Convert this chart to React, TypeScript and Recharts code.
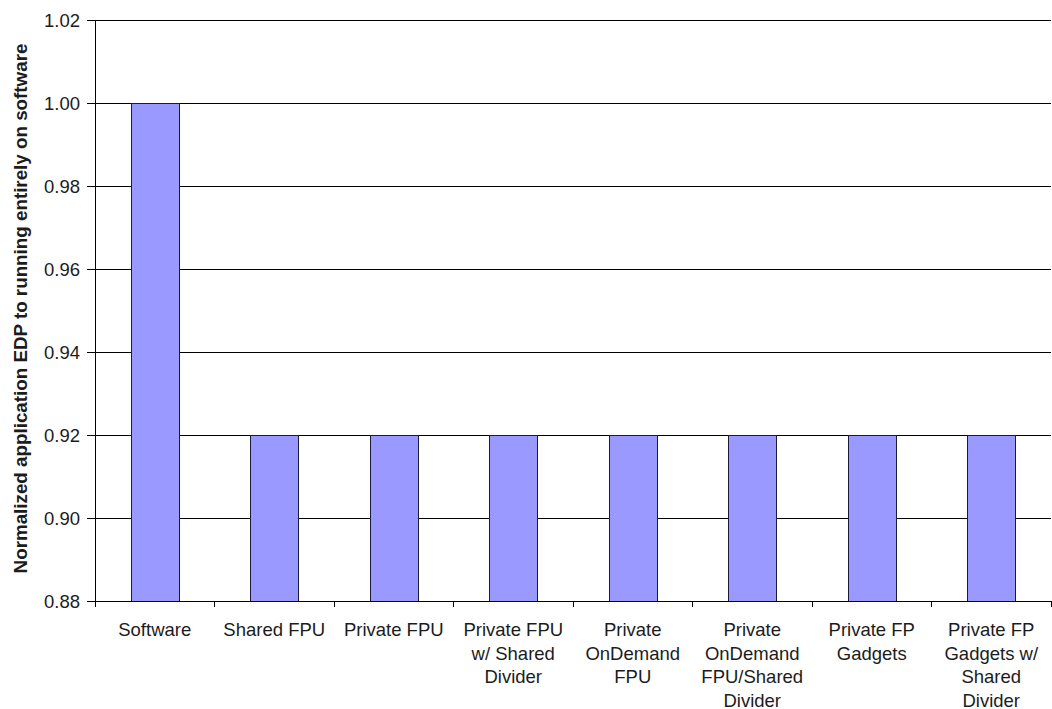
import React from "react";
import { BarChart, Bar, XAxis, YAxis, CartesianGrid, Label } from "recharts";

// Configurations compared, in axis order
const categories = [
  "Software",
  "Shared FPU",
  "Private FPU",
  "Private FPU w/ Shared Divider",
  "Private OnDemand FPU",
  "Private OnDemand FPU/Shared Divider",
  "Private FP Gadgets",
  "Private FP Gadgets w/ Shared Divider",
];

// How each category name wraps under the axis
const categoryLines = [
  ["Software"],
  ["Shared FPU"],
  ["Private FPU"],
  ["Private FPU", "w/ Shared", "Divider"],
  ["Private", "OnDemand", "FPU"],
  ["Private", "OnDemand", "FPU/Shared", "Divider"],
  ["Private FP", "Gadgets"],
  ["Private FP", "Gadgets w/", "Shared", "Divider"],
];

// Normalized application EDP relative to pure software
const edpValues = [1.0, 0.92, 0.92, 0.92, 0.92, 0.92, 0.92, 0.92];

const yTicks = [0.88, 0.9, 0.92, 0.94, 0.96, 0.98, 1.0, 1.02];

const data = categories.map((name, i) => ({ name, edp: edpValues[i] }));

const CHART_W = 1052;
const CHART_H = 709;
const Y_AXIS_W = 95;
const MARGIN = { top: 20, right: 1, bottom: 0, left: 0 };
const X_AXIS_H = 108;
const PLOT_W = CHART_W - Y_AXIS_W - MARGIN.left - MARGIN.right;
const BAND = PLOT_W / categories.length;

const FONT = "'Liberation Sans', Arial, sans-serif";
const TEXT_COLOR = "#1c1c1c";
const LINE_COLOR = "#000";

const CategoryTick = (props: any) => {
  const { x, y, payload, index } = props;
  const idx = categories.indexOf(payload.value);
  const lines = categoryLines[idx] ?? [payload.value];
  const left = x - BAND / 2;
  const right = x + BAND / 2;
  return (
    <g>
      <line x1={left} y1={y} x2={left} y2={y + 6} stroke={LINE_COLOR} strokeWidth={1} shapeRendering="crispEdges" />
      {index === categories.length - 1 && (
        <line x1={right} y1={y} x2={right} y2={y + 6} stroke={LINE_COLOR} strokeWidth={1} shapeRendering="crispEdges" />
      )}
      <text
        x={x}
        y={y + 35}
        textAnchor="middle"
        fontFamily={FONT}
        fontSize={18.5}
        fill={TEXT_COLOR}
      >
        {lines.map((ln, i) => (
          <tspan key={i} x={x} dy={i === 0 ? 0 : 23.5}>
            {ln}
          </tspan>
        ))}
      </text>
    </g>
  );
};

const YTitle = (props: any) => {
  const vb = props.viewBox || { x: 0, y: 0, width: 0, height: 0 };
  const cx = vb.x + 20;
  const cy = vb.y + vb.height / 2 - 2;
  return (
    <text
      x={cx}
      y={cy}
      transform={`rotate(-90, ${cx}, ${cy})`}
      textAnchor="middle"
      dominantBaseline="central"
      fontFamily={FONT}
      fontWeight="bold"
      fontSize={18.8}
      fill={TEXT_COLOR}
    >
      Normalized application EDP to running entirely on software
    </text>
  );
};

export default function App() {
  return (
    <div style={{ position: "absolute", left: 0, top: 0, background: "#fff" }}>
      <BarChart width={CHART_W} height={CHART_H} data={data} margin={MARGIN}>
        <CartesianGrid
          horizontal
          vertical={false}
          stroke={LINE_COLOR}
          strokeOpacity={1}
          shapeRendering="crispEdges"
        />
        <XAxis
          dataKey="name"
          height={X_AXIS_H}
          interval={0}
          tickLine={false}
          tickSize={0}
          tickMargin={0}
          axisLine={{ stroke: LINE_COLOR, strokeWidth: 1, shapeRendering: "crispEdges" }}
          tick={<CategoryTick />}
        />
        <YAxis
          width={Y_AXIS_W}
          domain={[0.88, 1.02]}
          ticks={yTicks}
          allowDataOverflow
          tickFormatter={(v: number) => v.toFixed(2)}
          tickSize={8}
          tickMargin={7}
          tickLine={{ stroke: LINE_COLOR, shapeRendering: "crispEdges" }}
          axisLine={{ stroke: LINE_COLOR, strokeWidth: 1, shapeRendering: "crispEdges" }}
          tick={{ fontFamily: FONT, fontSize: 18.5, fill: TEXT_COLOR }}
        >
          <Label content={<YTitle />} />
        </YAxis>
        <Bar
          dataKey="edp"
          fill="#9999FF"
          stroke="#1a1a3a"
          strokeWidth={1}
          barSize={48}
          shapeRendering="crispEdges"
          isAnimationActive={false}
        />
      </BarChart>
    </div>
  );
}
